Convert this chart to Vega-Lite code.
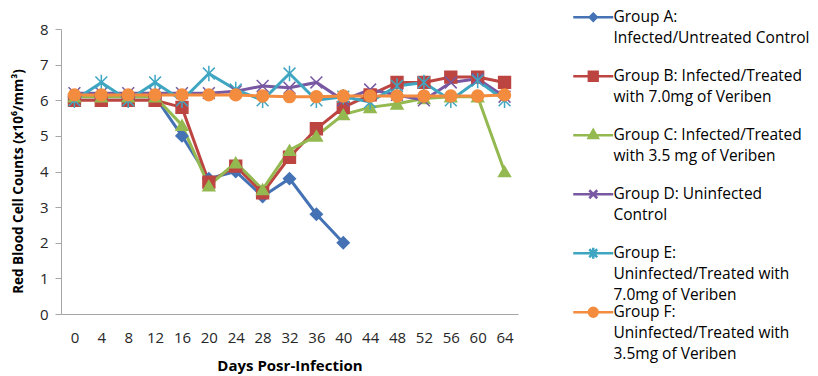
{
  "$schema": "https://vega.github.io/schema/vega-lite/v6.json",
  "width": 457,
  "height": 285,
  "autosize": {"type": "none"},
  "padding": {"left": 61, "top": 29, "right": 300, "bottom": 62},
  "background": "white",
  "config": {
    "view": {"stroke": null},
    "font": "Open Sans",
    "axis": {"labelFont": "Open Sans", "titleFont": "Open Sans", "labelColor": "#262626", "titleColor": "#000000"}
  },
  "datasets": {
    "groups": [
      {"g": "A", "name": "Group A:|Infected/Untreated Control"},
      {"g": "B", "name": "Group B: Infected/Treated|with 7.0mg of Veriben"},
      {"g": "C", "name": "Group C: Infected/Treated|with 3.5 mg of Veriben"},
      {"g": "D", "name": "Group D: Uninfected|Control"},
      {"g": "E", "name": "Group E:|Uninfected/Treated with|7.0mg of Veriben"},
      {"g": "F", "name": "Group F:|Uninfected/Treated with|3.5mg of Veriben"}
    ]
  },
  "data": {
    "values": [
      {"day": 0, "g": "A", "rbc": 6.1}, {"day": 4, "g": "A", "rbc": 6.1}, {"day": 8, "g": "A", "rbc": 6.1}, {"day": 12, "g": "A", "rbc": 6.1},
      {"day": 16, "g": "A", "rbc": 5.0}, {"day": 20, "g": "A", "rbc": 3.8}, {"day": 24, "g": "A", "rbc": 4.0}, {"day": 28, "g": "A", "rbc": 3.3},
      {"day": 32, "g": "A", "rbc": 3.8}, {"day": 36, "g": "A", "rbc": 2.8}, {"day": 40, "g": "A", "rbc": 2.0},

      {"day": 0, "g": "B", "rbc": 6.0}, {"day": 4, "g": "B", "rbc": 6.0}, {"day": 8, "g": "B", "rbc": 6.0}, {"day": 12, "g": "B", "rbc": 6.0},
      {"day": 16, "g": "B", "rbc": 5.8}, {"day": 20, "g": "B", "rbc": 3.7}, {"day": 24, "g": "B", "rbc": 4.15}, {"day": 28, "g": "B", "rbc": 3.4},
      {"day": 32, "g": "B", "rbc": 4.4}, {"day": 36, "g": "B", "rbc": 5.2}, {"day": 40, "g": "B", "rbc": 5.8}, {"day": 44, "g": "B", "rbc": 6.15},
      {"day": 48, "g": "B", "rbc": 6.5}, {"day": 52, "g": "B", "rbc": 6.5}, {"day": 56, "g": "B", "rbc": 6.65}, {"day": 60, "g": "B", "rbc": 6.65},
      {"day": 64, "g": "B", "rbc": 6.5},

      {"day": 0, "g": "C", "rbc": 6.1}, {"day": 4, "g": "C", "rbc": 6.1}, {"day": 8, "g": "C", "rbc": 6.1}, {"day": 12, "g": "C", "rbc": 6.1},
      {"day": 16, "g": "C", "rbc": 5.3}, {"day": 20, "g": "C", "rbc": 3.6}, {"day": 24, "g": "C", "rbc": 4.25}, {"day": 28, "g": "C", "rbc": 3.5},
      {"day": 32, "g": "C", "rbc": 4.6}, {"day": 36, "g": "C", "rbc": 5.0}, {"day": 40, "g": "C", "rbc": 5.6}, {"day": 44, "g": "C", "rbc": 5.8},
      {"day": 48, "g": "C", "rbc": 5.9}, {"day": 52, "g": "C", "rbc": 6.05}, {"day": 56, "g": "C", "rbc": 6.1}, {"day": 60, "g": "C", "rbc": 6.1},
      {"day": 64, "g": "C", "rbc": 4.0},

      {"day": 0, "g": "D", "rbc": 6.2}, {"day": 4, "g": "D", "rbc": 6.2}, {"day": 8, "g": "D", "rbc": 6.2}, {"day": 12, "g": "D", "rbc": 6.2},
      {"day": 16, "g": "D", "rbc": 6.2}, {"day": 20, "g": "D", "rbc": 6.2}, {"day": 24, "g": "D", "rbc": 6.25}, {"day": 28, "g": "D", "rbc": 6.4},
      {"day": 32, "g": "D", "rbc": 6.35}, {"day": 36, "g": "D", "rbc": 6.5}, {"day": 40, "g": "D", "rbc": 6.0}, {"day": 44, "g": "D", "rbc": 6.3},
      {"day": 48, "g": "D", "rbc": 6.15}, {"day": 52, "g": "D", "rbc": 6.0}, {"day": 56, "g": "D", "rbc": 6.5}, {"day": 60, "g": "D", "rbc": 6.6},
      {"day": 64, "g": "D", "rbc": 6.1},

      {"day": 0, "g": "E", "rbc": 6.0}, {"day": 4, "g": "E", "rbc": 6.5}, {"day": 8, "g": "E", "rbc": 6.0}, {"day": 12, "g": "E", "rbc": 6.5},
      {"day": 16, "g": "E", "rbc": 6.0}, {"day": 20, "g": "E", "rbc": 6.75}, {"day": 24, "g": "E", "rbc": 6.3}, {"day": 28, "g": "E", "rbc": 6.0},
      {"day": 32, "g": "E", "rbc": 6.75}, {"day": 36, "g": "E", "rbc": 6.0}, {"day": 40, "g": "E", "rbc": 6.1}, {"day": 44, "g": "E", "rbc": 5.95},
      {"day": 48, "g": "E", "rbc": 6.4}, {"day": 52, "g": "E", "rbc": 6.5}, {"day": 56, "g": "E", "rbc": 6.0}, {"day": 60, "g": "E", "rbc": 6.55},
      {"day": 64, "g": "E", "rbc": 6.0},

      {"day": 0, "g": "F", "rbc": 6.15}, {"day": 4, "g": "F", "rbc": 6.15}, {"day": 8, "g": "F", "rbc": 6.15}, {"day": 12, "g": "F", "rbc": 6.15},
      {"day": 16, "g": "F", "rbc": 6.15}, {"day": 20, "g": "F", "rbc": 6.15}, {"day": 24, "g": "F", "rbc": 6.15}, {"day": 28, "g": "F", "rbc": 6.12},
      {"day": 32, "g": "F", "rbc": 6.1}, {"day": 36, "g": "F", "rbc": 6.1}, {"day": 40, "g": "F", "rbc": 6.12}, {"day": 44, "g": "F", "rbc": 6.12},
      {"day": 48, "g": "F", "rbc": 6.12}, {"day": 52, "g": "F", "rbc": 6.12}, {"day": 56, "g": "F", "rbc": 6.12}, {"day": 60, "g": "F", "rbc": 6.12},
      {"day": 64, "g": "F", "rbc": 6.15}
    ]
  },
  "transform": [
    {"lookup": "g", "from": {"data": {"name": "groups"}, "key": "g", "fields": ["name"]}}
  ],
  "encoding": {
    "x": {
      "field": "day",
      "type": "ordinal",
      "scale": {"type": "point", "padding": 0.5, "domain": [0, 4, 8, 12, 16, 20, 24, 28, 32, 36, 40, 44, 48, 52, 56, 60, 64]},
      "axis": {
        "title": "Days Posr-Infection",
        "titleFontSize": 15,
        "titleFontWeight": "bold",
        "titlePadding": 13,
        "labelAngle": 0,
        "labelFontSize": 15,
        "labelPadding": 16,
        "ticks": false,
        "domainColor": "#a6a6a6",
        "domainWidth": 1,
        "grid": false
      }
    },
    "y": {
      "field": "rbc",
      "type": "quantitative",
      "scale": {"domain": [0, 8], "nice": false},
      "axis": {
        "title": "Red Blood Cell Counts (x10⁶/mm³)",
        "titleFontSize": 13.5,
        "titleFontWeight": "bold",
        "titlePadding": 14,
        "titleY": 152,
        "values": [0, 1, 2, 3, 4, 5, 6, 7, 8],
        "labelFontSize": 15,
        "labelPadding": 7,
        "tickSize": 6,
        "tickColor": "#a6a6a6",
        "domainColor": "#a6a6a6",
        "grid": false
      }
    },
    "color": {
      "field": "name",
      "type": "nominal",
      "scale": {"range": ["#4472B4", "#BC4541", "#93B950", "#7858A2", "#3FA6C2", "#F38C3E"]},
      "legend": {
        "title": null,
        "orient": "none",
        "legendX": 512,
        "legendY": -19.5,
        "padding": 0,
        "labelExpr": "split(datum.label, '|')",
        "labelFont": "Open Sans",
        "labelFontSize": 15.5,
        "labelColor": "#000000",
        "labelLimit": 400,
        "labelOffset": 12.5,
        "labelBaseline": "alphabetic",
        "symbolSize": 100,
        "symbolOffset": 12.5,
        "symbolStrokeWidth": 2.5,
        "rowPadding": -4,
        "gridAlign": "all",
        "encode": {
          "symbols": {
            "update": {
              "shape": {"signal": "indexof(datum.value,'Group A')==0 ? 'M-4,0H4M0,-0.7L0.7,0L0,0.7L-0.7,0Z' : indexof(datum.value,'Group B')==0 ? 'M-4,0H4M-0.88,-0.88H0.88V0.88H-0.88Z' : indexof(datum.value,'Group C')==0 ? 'M-4,0H4M0,-1.05L0.92,0.56H-0.92Z' : indexof(datum.value,'Group D')==0 ? 'M-4,0H4M-0.8,-0.8L0.8,0.8M-0.8,0.8L0.8,-0.8' : indexof(datum.value,'Group E')==0 ? 'M-4,0H4M-0.8,-0.8L0.8,0.8M-0.8,0.8L0.8,-0.8M0,-1.1V1.1' : 'M-4,0H4M0.88,0A0.88,0.88 0 1,1 -0.88,0A0.88,0.88 0 1,1 0.88,0Z'"},
              "fill": {"scale": "color", "field": "value"},
              "stroke": {"scale": "color", "field": "value"},
              "strokeWidth": {"value": 2.5},
              "size": {"value": 100},
              "opacity": {"value": 1}
            }
          },
          "labels": {
            "update": {
              "dy": {"value": 5},
              "lineHeight": {"value": 21}
            }
          }
        }
      }
    }
  },
  "layer": [
    {
      "mark": {"type": "line", "strokeWidth": 3}
    },
    {
      "mark": {"type": "point", "filled": true, "opacity": 1, "size": 140, "strokeWidth": 1.5},
      "encoding": {
        "shape": {
          "field": "name",
          "type": "nominal",
          "scale": {"range": ["diamond", "square", "triangle-up", "M-1,-1L1,1M-1,1L1,-1", "M-1,-1L1,1M-1,1L1,-1M0,-1.3L0,1.3", "circle"]},
          "legend": null
        },
        "stroke": {
          "field": "name",
          "type": "nominal",
          "scale": {"range": ["#4472B4", "#BC4541", "#93B950", "#7858A2", "#3FA6C2", "#F38C3E"]},
          "legend": null
        }
      }
    }
  ]
}
